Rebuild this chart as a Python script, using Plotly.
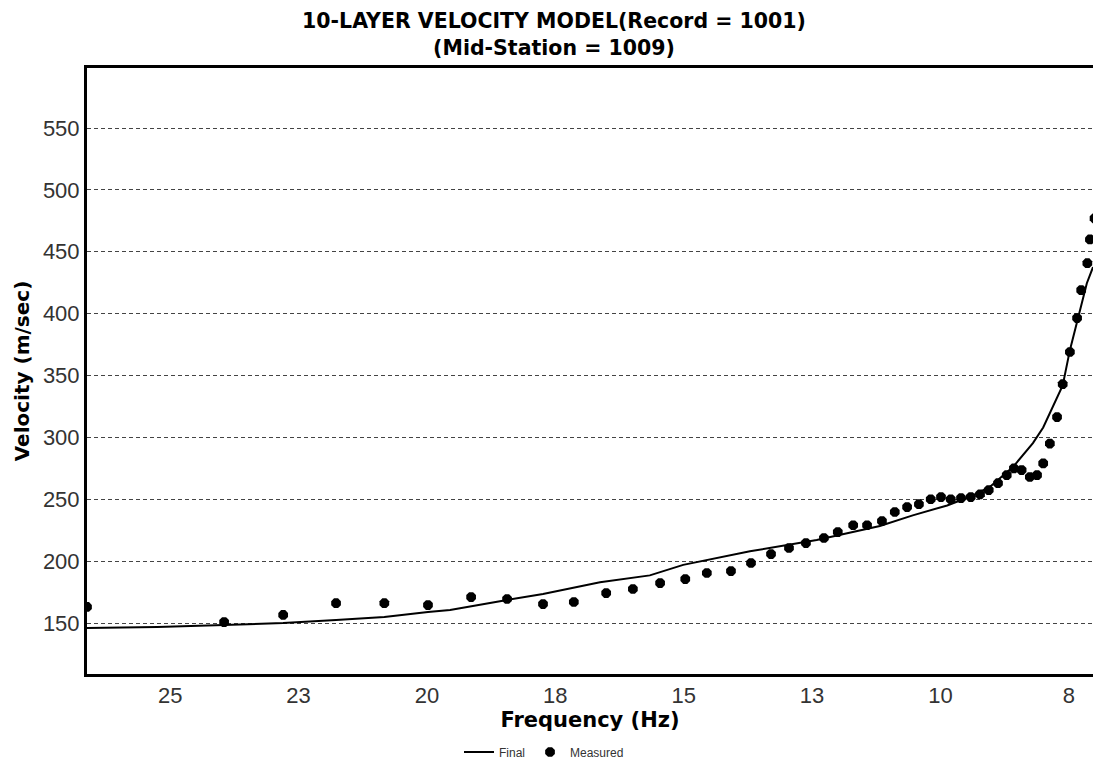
import plotly.graph_objects as go

# Final (model) dispersion curve
final_freq = [26.62, 25.25, 23.95, 22.80, 21.77, 20.83, 19.98, 19.55, 18.44, 17.74,
              16.63, 15.66, 15.01, 13.71, 12.41, 11.18, 10.54, 9.87, 9.43, 9.04,
              8.59, 8.20, 8.00, 7.81, 7.62, 7.48, 7.29, 7.15, 7.03]
final_vel = [146.0, 146.8, 148.4, 150.0, 152.4, 154.8, 158.9, 160.5, 168.6, 173.4,
             183.0, 188.5, 197.0, 208.0, 217.0, 228.4, 237.0, 245.0, 252.0, 260.0,
             276.0, 295.4, 308.0, 324.5, 342.0, 370.5, 403.0, 424.6, 437.6]

# Measured dispersion points
meas_freq = [26.62, 23.95, 22.80, 21.77, 20.83, 19.98, 19.14, 18.44, 17.74, 17.14,
             16.51, 15.99, 15.46, 14.97, 14.55, 14.08, 13.69, 13.30, 12.95, 12.62,
             12.27, 12.00, 11.70, 11.43, 11.14, 10.89, 10.65, 10.42, 10.19, 9.99,
             9.80, 9.60, 9.41, 9.23, 9.06, 8.88, 8.71, 8.57, 8.42, 8.26,
             8.12, 8.00, 7.87, 7.73, 7.62, 7.48, 7.34, 7.26, 7.14, 7.09, 7.00]
meas_vel = [163.0, 150.8, 156.5, 166.0, 166.0, 164.5, 171.0, 169.4, 165.3, 167.0,
            174.2, 177.5, 182.3, 185.5, 190.4, 192.0, 198.5, 205.7, 210.6, 214.6,
            218.7, 223.5, 229.0, 229.0, 232.4, 239.7, 243.7, 246.0, 250.0, 251.8,
            250.0, 251.0, 251.8, 254.0, 257.4, 263.0, 269.5, 275.0, 273.6, 268.0,
            269.5, 279.0, 295.0, 316.4, 343.0, 369.0, 396.4, 419.0, 440.8, 460.0, 477.0]

x_tickvals = [25, 22.5, 20, 17.5, 15, 12.5, 10, 7.5]
x_ticktext = ["25", "23", "20", "18", "15", "13", "10", "8"]
y_tickvals = [150, 200, 250, 300, 350, 400, 450, 500, 550]

W, H = 1093, 765

fig = go.Figure()
fig.add_trace(go.Scatter(
    x=final_freq, y=final_vel, mode="lines", name="Final",
    line=dict(color="black", width=2),
))
fig.add_trace(go.Scatter(
    x=meas_freq, y=meas_vel, mode="markers", name="Measured",
    marker=dict(symbol="octagon", size=10.5, color="black"),
))

fig.update_layout(
    width=W, height=H,
    margin=dict(l=87, r=0, t=68, b=91),
    paper_bgcolor="white", plot_bgcolor="white",
    title=dict(
        text="10-LAYER VELOCITY MODEL(Record = 1001)<br>(Mid-Station = 1009)",
        x=554 / W, xanchor="center", xref="container",
        y=1 - 28 / H, yanchor="top", yref="container",
        font=dict(family="DejaVu Sans", size=20.5, color="black", weight="bold"),
    ),
    showlegend=True,
    legend=dict(
        orientation="h", x=544 / W, xanchor="center", xref="container",
        y=1 - 752 / H, yanchor="middle", yref="container",
        font=dict(family="Liberation Sans, Arial", size=12, color="#333333"),
        itemwidth=30, bgcolor="rgba(0,0,0,0)",
    ),
    xaxis=dict(
        range=[26.62, 7.03], autorange=False,
        tickmode="array", tickvals=x_tickvals, ticktext=x_ticktext,
        showgrid=False, zeroline=False,
        showline=True, linecolor="black", linewidth=3, mirror=True,
        ticks="", ticklabelstandoff=0,
        tickfont=dict(family="Liberation Sans, Arial", size=22, color="#333333"),
        title=dict(text="Frequency (Hz)", standoff=4,
                   font=dict(family="DejaVu Sans", size=21, color="black", weight="bold")),
    ),
    yaxis=dict(
        range=[108.8, 598.5], autorange=False,
        tickmode="array", tickvals=y_tickvals,
        showgrid=True, gridcolor="#444444", gridwidth=1, griddash="4px,3px",
        zeroline=False,
        showline=True, linecolor="black", linewidth=3, mirror=False,
        ticks="", ticklabelstandoff=0,
        tickfont=dict(family="Liberation Sans, Arial", size=22, color="#333333"),
        title=dict(text="Velocity (m/sec)", standoff=8,
                   font=dict(family="DejaVu Sans", size=20, color="black", weight="bold")),
    ),
)

# remove the default page margin and scrollbars so the figure fills the window
page_css = (
    "document.body.style.margin='0';"
    "document.documentElement.style.overflow='hidden';"
    "document.body.style.overflow='hidden';"
)

fig.write_html("out.html", post_script=page_css, config={"displayModeBar": False})
